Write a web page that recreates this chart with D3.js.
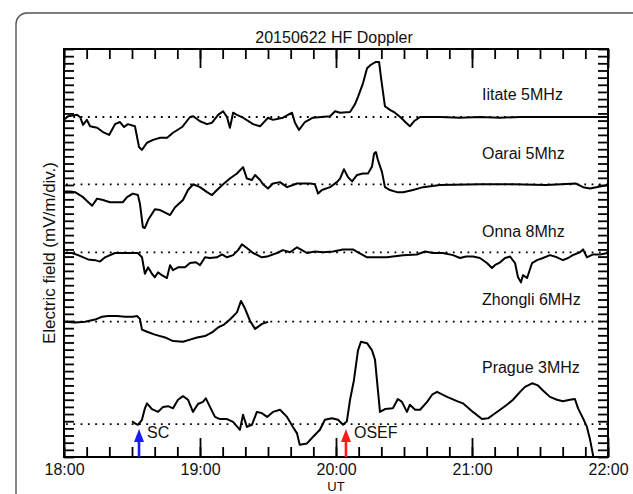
<!DOCTYPE html>
<html>
<head>
<meta charset="utf-8">
<script src="https://cdn.jsdelivr.net/npm/d3@7"></script>
<style>
    html, body { margin: 0; padding: 0; background: #fff; overflow: hidden; }
    svg { display: block; font-family: "Liberation Sans", Arial, sans-serif; }
</style>
</head>
<body>
<div id="chart"></div>
<script>
// time in minutes after 18:00 UT, value in divisions above the station baseline
const iitate = [[0,-0.4],[1.8,0.1],[5.7,0.3],[7.1,0],[8.4,-1.1],[10.1,-0.4],[11.5,-1.3],[14.6,-1.5],[17.2,-2.1],[19.9,-2.5],
    [22.5,-1.0],[24.7,-0.7],[26.5,-1.4],[28.2,-1.0],[31.3,-1.3],[33.1,-4.2],[34.4,-4.6],[36.6,-3.6],[39.3,-3.2],[42.4,-2.9],
    [45.5,-2.9],[48.1,-2.2],[52.1,-1.4],[55.6,0],[57.0,0.1],[60.0,-0.6],[63.1,-1.0],[65.3,-0.8],[68.0,0.3],[70.2,0.8],
    [71.9,0],[73.2,-1.5],[74.6,0.6],[76.3,0.3],[79.0,-0.1],[83.4,-1.0],[86.5,-1.3],[90.0,-0.1],[92.2,-0.4],[96.6,-0.1],
    [100.6,0.6],[101.9,-0.8],[103.7,-1.8],[106.3,-0.7],[109.8,-0.1],[117.4,0.1],[119.6,0.8],[121.8,0.6],[126.2,0.7],[128.4,1.8],
    [129.7,2.8],[131.9,4.7],[133.7,6.8],[135.4,7.3],[137.6,7.7],[139.0,7.7],[139.9,5.4],[141.6,1.5],[143.8,1.0],[146.0,0.6],
    [148.7,-0.1],[150.9,-0.8],[152.6,-1.3],[154.4,-0.6],[157.1,0],[165.9,0],[174.7,-0.1],[183.5,0],[192.4,-0.1],[201.2,0],
    [212.6,0],[227.6,0],[240,0]];

const oarai = [[0,-1.0],[2.6,-1.0],[4.9,-1.1],[8.4,-1.8],[12.4,-3.0],[14.6,-2.0],[17.2,-2.2],[20.3,-2.5],[23.4,-2.5],[26.0,-2.5],
    [27.8,-1.8],[30.4,-1.3],[32.6,-1.5],[33.5,-2.7],[34.8,-6.0],[35.7,-6.1],[37.1,-5.0],[40.1,-3.5],[42.4,-3.6],[45.5,-4.1],
    [46.8,-4.3],[49.0,-3.2],[52.5,-2.2],[54.7,-0.8],[57.0,0],[60.0,-0.4],[63.1,-1.1],[65.3,-1.5],[67.5,-0.8],[70.2,0],
    [73.2,0.8],[76.3,1.5],[79.0,2.4],[80.7,0.8],[82.9,0.6],[84.3,1.3],[86.5,0.6],[87.8,0],[90.0,-0.6],[92.2,0.1],
    [95.3,0.3],[98.4,-0.4],[101.0,-0.1],[102.8,0.1],[108.5,0.1],[110.7,0],[112.1,-1.3],[113.8,-0.8],[117.4,-0.4],[120.4,0.3],
    [121.8,0.8],[123.5,2.1],[125.3,1.0],[127.1,0.4],[129.3,1.3],[131.9,1.5],[134.1,1.5],[135.9,2.5],[136.8,4.3],[137.6,4.5],
    [138.5,3.4],[140.3,1.7],[141.6,-0.4],[143.8,-0.8],[146.9,-1.1],[149.6,-1.1],[154.0,-0.8],[158.4,-0.4],[165.9,-0.1],[183.5,0],
    [198.1,0],[212.6,-0.1],[225.9,0.1],[229.0,-0.4],[232.1,-0.6],[236.5,-0.3],[240,-0.1]];

const onna = [[0,-0.1],[3.5,-0.1],[6.2,-0.4],[10.6,-1.0],[13.7,-1.1],[15.9,-1.3],[18.1,-0.7],[22.5,-0.1],[25.6,-0.1],[30.0,-0.1],
    [32.6,-0.1],[34.4,-0.7],[35.7,-3.0],[37.1,-2.1],[38.8,-3.0],[40.1,-3.5],[41.5,-2.8],[43.2,-3.2],[45.4,-3.6],[46.8,-1.8],
    [48.1,-2.5],[50.3,-2.1],[53.4,-2.1],[55.6,-1.5],[58.2,-1.4],[60.0,-1.8],[62.2,-0.7],[64.4,-0.8],[67.5,-0.7],[69.7,-0.3],
    [71.9,-0.7],[74.6,-0.4],[76.8,0.3],[78.5,1.1],[80.7,0.6],[83.4,-0.1],[87.3,-0.7],[89.6,-0.6],[94.0,-0.1],[96.6,0.3],
    [99.7,0],[102.8,0.7],[105.0,0.3],[107.2,-0.1],[110.7,0.1],[114.3,0],[118.7,0.1],[123.1,0.4],[127.5,0.4],[129.7,0],
    [133.7,-0.7],[138.1,-0.7],[142.5,-0.7],[145.1,-0.6],[149.6,-0.4],[155.7,-0.3],[159.3,0.1],[162.8,-0.1],[167.2,-0.1],[171.6,-0.4],
    [174.7,-0.8],[177.4,-0.6],[180.4,-0.6],[183.5,-0.8],[186.6,-1.5],[188.8,-2.2],[190.1,-1.8],[192.4,-1.4],[194.6,-0.8],[196.8,-0.6],
    [199.0,-1.5],[200.3,-3.5],[201.6,-4.2],[202.5,-3.2],[204.3,-3.6],[206.5,-1.5],[208.7,-1.1],[211.3,-0.8],[214.4,-0.4],[217.5,-0.7],
    [220.1,-1.1],[222.4,-0.8],[224.5,-0.4],[227.6,0],[229.0,0.4],[230.7,-0.7],[233.4,-0.3],[236.5,-0.3],[240,-0.1]];

const zhongli = [[0,0],[4.9,-0.1],[9.3,0],[13.7,0.3],[16.8,0.7],[19.4,0.8],[23.4,0.8],[26.9,0.7],[30.4,0.7],[32.2,0.8],
    [33.5,0.4],[34.4,-1.1],[36.6,-1.4],[40.1,-1.8],[44.6,-2.2],[48.1,-2.7],[52.5,-2.8],[55.6,-2.5],[58.7,-2.2],[62.2,-2.0],
    [65.3,-1.5],[68.0,-0.8],[70.6,-0.4],[73.2,0.3],[76.3,1.3],[78.1,2.9],[79.9,1.8],[82.1,0.1],[84.3,-1.0],[87.4,-0.3],[90.0,0]];

const prague = [[30.0,0.4],[31.3,0.1],[32.6,-0.1],[34.4,0.6],[35.7,2.2],[36.6,2.9],[38.8,2.1],[41.5,1.7],[43.7,2.4],[45.9,2.5],
    [48.1,2.2],[50.3,3.4],[52.5,3.9],[54.7,3.4],[56.9,1.7],[59.1,2.8],[61.3,3.1],[62.6,3.6],[64.4,2.4],[66.6,1.0],
    [68.8,0.7],[71.9,0.7],[74.6,0.3],[77.6,-0.8],[79.0,1.3],[80.7,-0.4],[82.9,-0.1],[85.1,1.7],[87.4,1.5],[89.6,1.0],
    [92.2,1.7],[95.3,2.0],[98.4,1.0],[101.0,-0.4],[102.8,-1.3],[104.0,-2.9],[107.2,-2.7],[109.8,-1.8],[112.9,-0.8],[115.1,0.6],
    [118.2,0.8],[120.9,0.6],[123.1,-0.1],[124.8,0.4],[126.2,3.4],[127.9,6.1],[129.7,10.3],[131.0,11.5],[133.7,11.3],[135.9,10.3],
    [137.2,9.0],[138.5,4.7],[139.4,1.7],[141.6,2.1],[145.1,2.2],[147.3,3.5],[149.1,3.1],[151.3,1.7],[152.6,2.7],[154.9,2.0],
    [157.1,2.0],[160.2,3.1],[162.4,4.1],[164.6,4.5],[165.9,4.3],[169.0,3.8],[173.4,3.2],[176.0,2.9],[180.4,1.7],[184.4,0.7],
    [187.1,0.8],[189.3,1.3],[192.4,2.0],[195.4,2.7],[198.1,3.4],[201.2,4.5],[203.4,5.2],[206.5,5.7],[209.1,5.4],[211.3,4.7],
    [214.4,3.8],[217.5,3.4],[220.1,3.2],[223.2,3.4],[225.4,3.5],[226.8,2.2],[229.0,0.8],[230.7,-0.4],[232.1,-2.2],[233.8,-5.0]];

const stationNames = ['Iitate 5MHz', 'Oarai 5Mhz', 'Onna 8Mhz', 'Zhongli 6MHz', 'Prague 3MHz'];
const stationSeries = [iitate, oarai, onna, zhongli, prague];
const baselines = [47.5, 38.1, 28.6, 18.9, 4.6];   // divisions from the bottom of the panel
const labelLevels = [2.4, 3.5, 2.2, 2.3, 7.1];      // label baseline, divisions above the station baseline

const hourLabels = ['18:00', '19:00', '20:00', '21:00', '22:00'];
const events = [
    { name: 'SC', time: 33.1, color: '#1a1aff' },
    { name: 'OSEF', time: 124.4, color: '#ff1a1a' }
];

const width = 633, height = 494;
const margin = { top: 49, right: 25, bottom: 37, left: 64 };

const svg = d3.select('#chart').append('svg')
    .attr('width', width)
    .attr('height', height);

svg.append('rect').attr('width', width).attr('height', height).attr('fill', '#fff');

// outer panel border: only its left edge, top edge and top-left corner are in view
const r = 11;
svg.append('path')
    .attr('d', `M16,${height}V${13 + r}A${r},${r} 0 0 1 ${16 + r},13H${width}`)
    .attr('fill', 'none')
    .attr('stroke', '#555')
    .attr('stroke-width', 1.4);

const x = d3.scaleLinear().domain([0, 240]).range([margin.left, width - margin.right]);
const y = d3.scaleLinear().domain([0, 57]).range([height - margin.bottom, margin.top]);

svg.append('defs').append('clipPath').attr('id', 'plot-clip')
    .append('rect')
    .attr('x', x(0)).attr('y', y(57))
    .attr('width', x(240) - x(0)).attr('height', y(0) - y(57));

// dotted zero lines
svg.selectAll('.baseline')
    .data(baselines)
    .join('line')
    .attr('class', 'baseline')
    .attr('x1', x(0) + 2).attr('x2', x(240))
    .attr('y1', d => y(d)).attr('y2', d => y(d))
    .attr('stroke', '#000')
    .attr('stroke-width', 1.8)
    .attr('stroke-dasharray', '1.8 5.5');

// station traces
const plot = svg.append('g').attr('clip-path', 'url(#plot-clip)');
stationSeries.forEach((series, i) => {
    const line = d3.line()
        .x(d => x(d[0]))
        .y(d => y(baselines[i] + d[1]));
    plot.append('path')
        .datum(series)
        .attr('d', line)
        .attr('fill', 'none')
        .attr('stroke', '#000')
        .attr('stroke-width', 2)
        .attr('stroke-linejoin', 'round');
});

// station labels
svg.selectAll('.station-label')
    .data(stationNames)
    .join('text')
    .attr('class', 'station-label')
    .attr('x', x(184.4))
    .attr('y', (d, i) => y(baselines[i] + labelLevels[i]))
    .attr('font-size', 16)
    .attr('fill', '#111')
    .text(d => d);

// axes: ticks pointing inward on all four sides
const minorX = d3.range(0, 241, 10);
const majorX = d3.range(0, 241, 60);
const yTicks = d3.range(0, 58, 1);

function styleAxis(g) {
    g.select('.domain').remove();
    g.selectAll('.tick text').filter(function () { return !this.textContent; }).remove();
    g.selectAll('.tick line').attr('stroke', '#000').attr('stroke-width', 1.8);
}

svg.append('g')
    .attr('transform', `translate(0,${y(0)})`)
    .call(d3.axisBottom(x).tickValues(minorX).tickSize(-10).tickFormat(''))
    .call(styleAxis);
svg.append('g')
    .attr('transform', `translate(0,${y(0)})`)
    .call(d3.axisBottom(x).tickValues(majorX).tickSize(-19).tickPadding(7)
        .tickFormat((d, i) => hourLabels[i]))
    .call(styleAxis)
    .call(g => g.selectAll('text')
        .attr('font-size', 16)
        .attr('font-family', '"Liberation Sans", Arial, sans-serif')
        .attr('fill', '#111'));
svg.append('g')
    .attr('transform', `translate(0,${y(57)})`)
    .call(d3.axisTop(x).tickValues(minorX).tickSize(-10).tickFormat(''))
    .call(styleAxis);
svg.append('g')
    .attr('transform', `translate(0,${y(57)})`)
    .call(d3.axisTop(x).tickValues(majorX).tickSize(-19).tickFormat(''))
    .call(styleAxis);
svg.append('g')
    .attr('transform', `translate(${x(0)},0)`)
    .call(d3.axisLeft(y).tickValues(yTicks).tickSize(-10).tickFormat(''))
    .call(styleAxis);
svg.append('g')
    .attr('transform', `translate(${x(240)},0)`)
    .call(d3.axisRight(y).tickValues(yTicks).tickSize(-10).tickFormat(''))
    .call(styleAxis);

// frame
svg.append('rect')
    .attr('x', x(0)).attr('y', y(57))
    .attr('width', x(240) - x(0)).attr('height', y(0) - y(57))
    .attr('fill', 'none')
    .attr('stroke', '#000')
    .attr('stroke-width', 2);

// event arrows
const arrows = svg.selectAll('.event')
    .data(events)
    .join('g')
    .attr('class', 'event')
    .attr('transform', d => `translate(${x(d.time)},${y(0)})`);
arrows.append('line')
    .attr('y1', 0).attr('y2', -17)
    .attr('stroke', d => d.color)
    .attr('stroke-width', 2.6);
arrows.append('path')
    .attr('d', 'M-5,-15L0,-28L5,-15Z')
    .attr('fill', d => d.color);
arrows.append('text')
    .attr('x', 8).attr('y', -19)
    .attr('font-size', 16)
    .attr('fill', '#111')
    .text(d => d.name);

// title and axis titles
svg.append('text')
    .attr('x', (x(0) + x(240)) / 2 - 2).attr('y', 43)
    .attr('text-anchor', 'middle')
    .attr('font-size', 16)
    .attr('fill', '#111')
    .text('20150622 HF Doppler');

svg.append('text')
    .attr('x', (x(0) + x(240)) / 2).attr('y', 490.5)
    .attr('text-anchor', 'middle')
    .attr('font-size', 13)
    .attr('fill', '#111')
    .text('UT');

svg.append('text')
    .attr('transform', `translate(55,${(y(0) + y(57)) / 2}) rotate(-90)`)
    .attr('text-anchor', 'middle')
    .attr('font-size', 17)
    .attr('fill', '#111')
    .text('Electric field (mV/m/div.)');
</script>
</body>
</html>
